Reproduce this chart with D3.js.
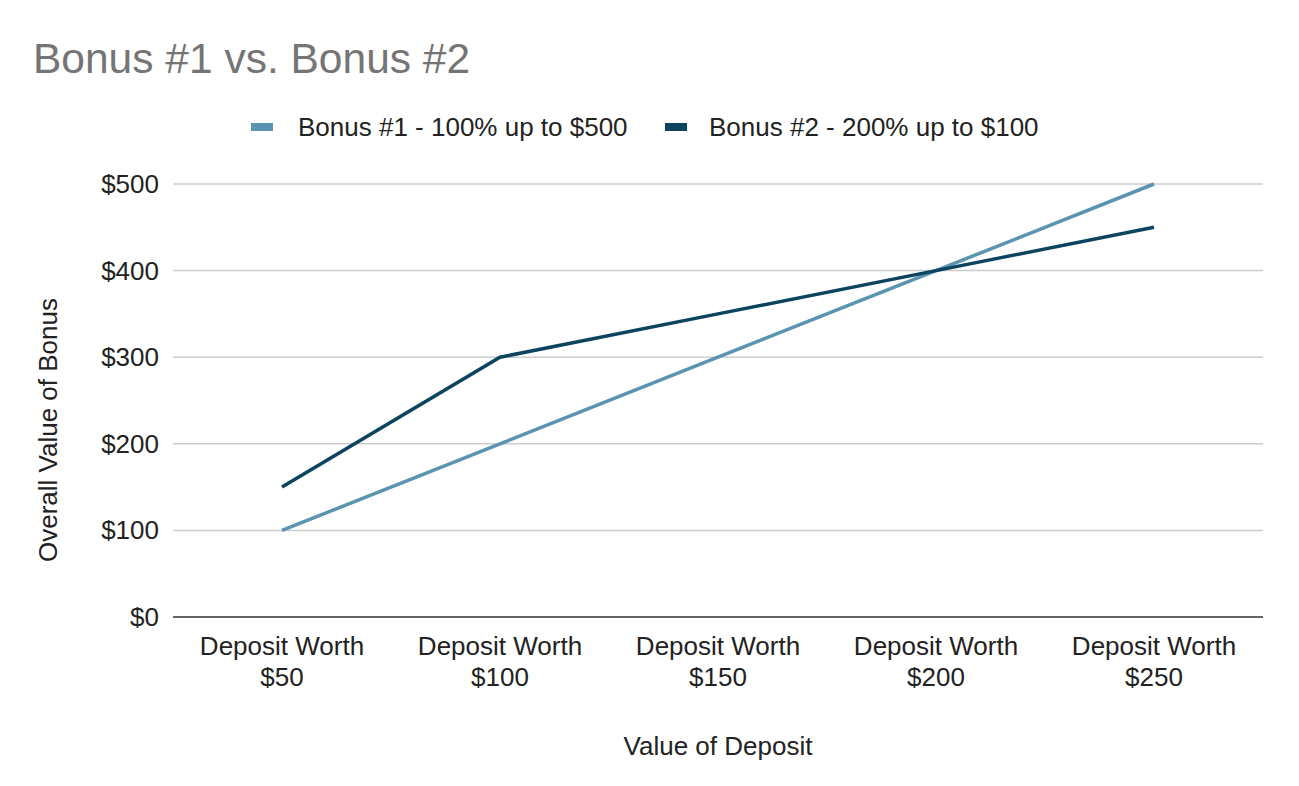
<!DOCTYPE html>
<html><head><meta charset="utf-8">
<script src="https://cdn.jsdelivr.net/npm/d3@7"></script>
<style>body{margin:0;background:#fff}svg{display:block;font-family:"Liberation Sans",Arial,sans-serif}</style>
</head><body>
<script>
const categories = ["Deposit Worth $50","Deposit Worth $100","Deposit Worth $150","Deposit Worth $200","Deposit Worth $250"];
const bonus1 = [100, 200, 300, 400, 500];
const bonus2 = [150, 300, 350, 400, 450];
const seriesNames = ["Bonus #1 - 100% up to $500","Bonus #2 - 200% up to $100"];
const yTicks = [0,100,200,300,400,500];
const colors = ["#5b94b0","#0c4460"];

const W=1299,H=786;
const svg=d3.select("body").append("svg").attr("width",W).attr("height",H);
const m={l:173,r:1263,t:184,b:617};
const x=d3.scaleBand().domain(categories).range([m.l,m.r]);
const y=d3.scaleLinear().domain([0,500]).range([m.b,m.t]);
const FS=26;

svg.append("text").attr("x",33).attr("y",73).attr("font-size",42.5).attr("fill","#757575").text("Bonus #1 vs. Bonus #2");

svg.append("g").selectAll("line").data(yTicks.filter(d=>d>0)).join("line")
 .attr("x1",m.l).attr("x2",m.r).attr("y1",d=>y(d)).attr("y2",d=>y(d))
 .attr("stroke","#cccccc").attr("stroke-width",1.5);
svg.append("g").selectAll("text").data(yTicks).join("text")
 .attr("x",159).attr("y",d=>y(d)+9).attr("text-anchor","end").attr("font-size",FS).attr("fill","#222").text(d=>"$"+d);
svg.append("line").attr("x1",m.l).attr("x2",m.r).attr("y1",y(0)).attr("y2",y(0)).attr("stroke","#333").attr("stroke-width",1.5);
const xl=svg.append("g").selectAll("text").data(categories).join("text")
 .attr("text-anchor","middle").attr("font-size",FS).attr("fill","#222");
xl.append("tspan").attr("y",655).attr("x",d=>x(d)+x.bandwidth()/2).text(d=>d.replace(/ \$.*/,""));
xl.append("tspan").attr("y",686).attr("x",d=>x(d)+x.bandwidth()/2).text(d=>d.match(/\$\d+/)[0]);

svg.append("text").attr("x",718).attr("y",755).attr("text-anchor","middle").attr("font-size",FS).attr("fill","#222").text("Value of Deposit");
svg.append("text").attr("transform","translate(57,430) rotate(-90)").attr("text-anchor","middle").attr("font-size",FS).attr("fill","#222").text("Overall Value of Bonus");

const line=d3.line().x((d,i)=>x(categories[i])+x.bandwidth()/2).y(d=>y(d));
[bonus1,bonus2].forEach((s,i)=>{
 svg.append("path").datum(s).attr("d",line).attr("fill","none").attr("stroke",colors[i]).attr("stroke-width",3.5);
});

const lg=[{x:251,tx:298},{x:665,tx:709}];
seriesNames.forEach((n,i)=>{
 svg.append("rect").attr("x",lg[i].x).attr("y",123).attr("width",22).attr("height",8).attr("fill",colors[i]);
 svg.append("text").attr("x",lg[i].tx).attr("y",136).attr("font-size",FS).attr("fill","#222").text(n);
});
</script>
</body></html>
